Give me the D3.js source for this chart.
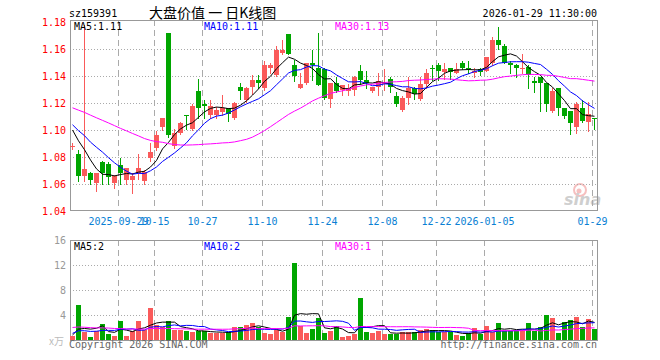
<!DOCTYPE html>
<html>
<head>
<meta charset="utf-8">
<script src="https://cdn.jsdelivr.net/npm/d3@7"></script>
<style>
body{margin:0;background:#fff;}
svg{display:block;}
text{font-family:"DejaVu Sans Mono",monospace;font-size:10px;}
</style>
</head>
<body>
<svg></svg>
<script>
// trading days shown
var dates = ["2025-09-17","2025-09-18","2025-09-19","2025-09-22","2025-09-23","2025-09-24","2025-09-25","2025-09-26","2025-09-29","2025-09-30",
  "2025-10-09","2025-10-10","2025-10-13","2025-10-14","2025-10-15","2025-10-16","2025-10-17","2025-10-20","2025-10-21","2025-10-22",
  "2025-10-23","2025-10-24","2025-10-27","2025-10-28","2025-10-29","2025-10-30","2025-10-31","2025-11-03","2025-11-04","2025-11-05",
  "2025-11-06","2025-11-07","2025-11-10","2025-11-11","2025-11-12","2025-11-13","2025-11-14","2025-11-17","2025-11-18","2025-11-19",
  "2025-11-20","2025-11-21","2025-11-24","2025-11-25","2025-11-26","2025-11-27","2025-11-28","2025-12-01","2025-12-02","2025-12-03",
  "2025-12-04","2025-12-05","2025-12-08","2025-12-09","2025-12-10","2025-12-11","2025-12-12","2025-12-15","2025-12-16","2025-12-17",
  "2025-12-18","2025-12-22","2025-12-23","2025-12-24","2025-12-25","2025-12-26","2025-12-29","2025-12-30","2025-12-31","2026-01-05",
  "2026-01-06","2026-01-07","2026-01-08","2026-01-09","2026-01-12","2026-01-13","2026-01-14","2026-01-15","2026-01-16","2026-01-19",
  "2026-01-20","2026-01-21","2026-01-22","2026-01-23","2026-01-26","2026-01-27","2026-01-28","2026-01-29"];

var open = [1.088,1.082,1.066,1.068,1.061,1.076,1.075,1.061,1.074,1.063,
  1.063,1.068,1.062,1.079,1.087,1.102,1.172,1.088,1.098,1.111,
  1.101,1.129,1.119,1.111,1.111,1.113,1.116,1.109,1.132,1.122,
  1.132,1.137,1.131,1.146,1.141,1.157,1.171,1.148,1.131,1.135,
  1.150,1.146,1.145,1.123,1.135,1.130,1.129,1.130,1.144,1.137,
  1.129,1.132,1.134,1.138,1.125,1.115,1.124,1.131,1.123,1.134,
  1.146,1.148,1.143,1.146,1.142,1.150,1.146,1.142,1.145,1.144,
  1.150,1.167,1.162,1.150,1.148,1.146,1.147,1.136,1.139,1.135,
  1.114,1.131,1.116,1.114,1.102,1.116,1.106,1.109];

var high = [1.090,1.085,1.178,1.069,1.068,1.077,1.076,1.067,1.079,1.072,
  1.068,1.082,1.070,1.090,1.099,1.109,1.172,1.101,1.106,1.111,
  1.119,1.138,1.122,1.122,1.117,1.126,1.116,1.121,1.135,1.132,
  1.141,1.141,1.151,1.150,1.162,1.167,1.171,1.152,1.142,1.150,
  1.159,1.172,1.146,1.135,1.139,1.133,1.134,1.140,1.148,1.144,
  1.132,1.142,1.145,1.139,1.128,1.125,1.139,1.132,1.139,1.145,
  1.148,1.150,1.150,1.146,1.150,1.151,1.151,1.146,1.146,1.154,
  1.169,1.176,1.164,1.151,1.149,1.156,1.148,1.139,1.139,1.135,
  1.131,1.131,1.116,1.114,1.121,1.122,1.121,1.109];

var low = [1.086,1.062,1.062,1.060,1.055,1.060,1.060,1.057,1.060,1.060,
  1.053,1.064,1.060,1.077,1.085,1.100,1.095,1.087,1.097,1.101,
  1.100,1.109,1.109,1.109,1.109,1.111,1.107,1.108,1.123,1.121,
  1.127,1.131,1.130,1.142,1.140,1.156,1.156,1.136,1.131,1.134,
  1.137,1.133,1.123,1.117,1.128,1.126,1.126,1.126,1.134,1.131,
  1.128,1.126,1.130,1.128,1.118,1.114,1.119,1.123,1.122,1.131,
  1.137,1.137,1.138,1.138,1.142,1.145,1.142,1.139,1.141,1.144,
  1.148,1.160,1.150,1.142,1.139,1.142,1.131,1.128,1.114,1.114,
  1.113,1.111,1.109,1.097,1.098,1.106,1.099,1.101];

var close = [1.088,1.066,1.071,1.063,1.068,1.068,1.065,1.066,1.068,1.072,
  1.066,1.072,1.069,1.084,1.096,1.109,1.096,1.098,1.105,1.110,
  1.118,1.116,1.118,1.118,1.115,1.116,1.112,1.120,1.129,1.131,
  1.137,1.135,1.148,1.148,1.159,1.159,1.156,1.140,1.134,1.150,
  1.148,1.133,1.124,1.135,1.129,1.133,1.131,1.139,1.137,1.135,
  1.132,1.136,1.135,1.132,1.119,1.124,1.131,1.127,1.134,1.142,
  1.145,1.144,1.145,1.143,1.145,1.146,1.145,1.144,1.143,1.154,
  1.167,1.163,1.150,1.148,1.146,1.146,1.141,1.135,1.135,1.119,
  1.129,1.116,1.110,1.105,1.119,1.107,1.112,1.108];

// volume, in 万
var volume = [0.64,5.6,1.23,0.48,1.44,2.6,0.96,0.64,3.04,0.64,
  1.44,3.04,1.6,5.12,2.4,2.13,3.04,1.6,1.6,1.44,
  1.28,1.44,1.44,1.12,1.12,1.12,1.23,2.08,2.08,2.4,
  2.72,2.08,1.12,0.96,1.6,1.28,3.68,12.3,2.24,1.12,
  1.76,3.52,1.12,1.44,2.24,0.48,0.64,0.96,6.67,1.28,
  1.12,1.44,0.96,0.96,0.96,1.28,1.28,1.28,1.6,1.76,
  1.6,1.28,1.28,1.28,0.8,0.64,1.12,1.92,0.96,2.24,
  1.28,2.72,1.44,1.44,1.44,1.6,2.72,1.44,2.08,4.0,
  3.52,1.12,2.88,3.2,3.68,2.08,3.36,1.76];

// days before the window, estimated from where the MA lines start
var earlierClose = [1.118,1.121,1.124,1.127,1.125,1.122,1.126,1.129,1.127,1.124,
  1.126,1.128,1.125,1.123,1.124,1.126,1.118,1.115,1.112,1.114,
  1.110,1.108,1.111,1.106,1.104,1.106,1.104,1.101,1.101];
var earlierVolume = [3.1,2.6,2.2,2.9,2.4,1.8,2.7,3.3,2.5,2.1,
  2.8,2.3,1.9,2.6,2.2,2.9,2.4,2.0,2.3,2.3,
  1.5,1.2,1.6,1.1,1.3,0.9,0.7,1.0,0.76];

var priceTicks = [1.04,1.06,1.08,1.10,1.12,1.14,1.16,1.18];
var volTicks = [4,8,12,16];
var tickDates = ["2025-09-29","2025-10-15","2025-10-27","2025-11-10","2025-11-24","2025-12-08","2025-12-22","2026-01-05","2026-01-29"];
var tickLabels = ["2025-09-29","10-15","10-27","11-10","11-24","12-08","12-22","2026-01-05","01-29"];
var maPeriods = [5,10,30];
var maColors = ["#000000","#0000ff","#ff00ff"];

var svg = d3.select("svg").attr("width", 660).attr("height", 360);

var up = "#fa5a5a", down = "#00a600", frameColor = "#999";
var left = 70, right = 598;

var x = d3.scaleBand().domain(dates).range([left, right]);
var y = d3.scaleLinear().domain([1.04, 1.18]).range([211, 22]);
var yv = d3.scaleLinear().domain([0, 16]).range([340, 240]);

function movingAvg(prev, vals, n){
    var all = prev.concat(vals), out = [];
    for(var i = 0; i < vals.length; i++){
        var k = i + prev.length, s = 0;
        for(var j = k - n + 1; j <= k; j++){
            s += all[j];
        }
        out.push(s / n);
    }
    return out;
}

function isUp(i){ return close[i] >= open[i]; }

// header
svg.append("text").attr("x", 69).attr("y", 17).text("sz159391");
svg.append("text").attr("x", 149).attr("y", 18)
    .style("font-family", "'Noto Sans CJK SC',sans-serif").style("font-size", "14px")
    .text("大盘价值 一 日K线图");
svg.append("text").attr("x", 597).attr("y", 17).attr("text-anchor", "end").text("2026-01-29 11:30:00");

// sina mark
var mark = svg.append("g").attr("opacity", 0.55);
mark.append("circle").attr("cx", 580).attr("cy", 190).attr("r", 6)
    .attr("fill", "none").attr("stroke", "#f08c8c").attr("stroke-width", 2);
mark.append("circle").attr("cx", 579).attr("cy", 191).attr("r", 2.5).attr("fill", "#f08c8c");
mark.append("text").attr("x", 564).attr("y", 205)
    .style("font-family", "'DejaVu Sans',sans-serif").style("font-size", "16px")
    .style("font-weight", "bold").style("font-style", "italic")
    .attr("fill", "#a8a8a8").text("sina");

// grid, price panel
svg.append("g").selectAll("line")
    .data(priceTicks.filter(function(d){ return d > 1.045 && d < 1.175; }))
    .enter().append("line")
    .attr("x1", left).attr("x2", right)
    .attr("y1", function(d){ return Math.round(y(d)) + 0.5; })
    .attr("y2", function(d){ return Math.round(y(d)) + 0.5; })
    .attr("stroke", "#aaa").attr("stroke-dasharray", "1,2");

// grid, volume panel
svg.append("g").selectAll("line")
    .data(volTicks.filter(function(d){ return d < 16; }))
    .enter().append("line")
    .attr("x1", left).attr("x2", right)
    .attr("y1", function(d){ return Math.round(yv(d)) + 0.5; })
    .attr("y2", function(d){ return Math.round(yv(d)) + 0.5; })
    .attr("stroke", "#aaa").attr("stroke-dasharray", "1,2");

// date lines in both panels
var vgrid = svg.append("g");
[[20, 211], [240, 340]].forEach(function(r){
    vgrid.selectAll(null).data(tickDates).enter().append("line")
        .attr("x1", function(d){ return x(d) + 0.5; })
        .attr("x2", function(d){ return x(d) + 0.5; })
        .attr("y1", r[0]).attr("y2", r[1])
        .attr("stroke", "#aaa").attr("stroke-dasharray", "6,4");
});

// frames
svg.append("rect").attr("x", left + 0.5).attr("y", 20.5).attr("width", right - left - 1).attr("height", 190)
    .attr("fill", "none").attr("stroke", frameColor);
svg.append("rect").attr("x", left + 0.5).attr("y", 240.5).attr("width", right - left - 1).attr("height", 100)
    .attr("fill", "none").attr("stroke", frameColor);

// price labels
svg.append("g").selectAll("text").data(priceTicks).enter().append("text")
    .attr("x", 66).attr("y", function(d){ return y(d) + 4; })
    .attr("text-anchor", "end").attr("fill", "#ff0000")
    .text(function(d){ return d.toFixed(2); });

// volume labels
svg.append("g").selectAll("text").data(volTicks).enter().append("text")
    .attr("x", 66).attr("y", function(d){ return yv(d) + 4; })
    .attr("text-anchor", "end").attr("fill", "#999")
    .text(function(d){ return d; });
svg.append("text").attr("x", 64).attr("y", 345).attr("text-anchor", "end")
    .style("font-family", "'Noto Sans CJK SC',sans-serif").style("font-size", "10px")
    .attr("fill", "#bbb").text("x万");

// date labels
svg.append("g").selectAll("text").data(tickDates).enter().append("text")
    .attr("x", function(d){ return x(d) + 0.5; }).attr("y", 225)
    .attr("text-anchor", "middle").attr("fill", "#0a7fd4")
    .text(function(d, i){ return tickLabels[i]; });

// candles
var candle = svg.append("g").selectAll("g").data(dates).enter().append("g");
candle.append("line")
    .attr("x1", function(d){ return x(d) + 2.5; })
    .attr("x2", function(d){ return x(d) + 2.5; })
    .attr("y1", function(d, i){ return Math.round(y(high[i])); })
    .attr("y2", function(d, i){ return Math.round(y(low[i])) + 1; })
    .attr("stroke", function(d, i){ return isUp(i) ? up : down; });
candle.append("rect")
    .attr("x", function(d){ return x(d); })
    .attr("width", 5)
    .attr("y", function(d, i){ return Math.round(y(Math.max(open[i], close[i]))); })
    .attr("height", function(d, i){
        return Math.max(1, Math.round(y(Math.min(open[i], close[i]))) - Math.round(y(Math.max(open[i], close[i]))));
    })
    .attr("fill", function(d, i){ return isUp(i) ? up : down; });

// volume bars
svg.append("g").selectAll("rect").data(volume).enter().append("rect")
    .attr("x", function(d, i){ return x(dates[i]); })
    .attr("width", 5)
    .attr("y", function(d){ return Math.round(yv(d)); })
    .attr("height", function(d){ return 340 - Math.round(yv(d)); })
    .attr("fill", function(d, i){ return isUp(i) ? up : down; });

// moving averages
function maLine(scale){
    return d3.line()
        .x(function(d, i){ return x(dates[i]) + 2.5; })
        .y(function(d){ return scale(d); });
}

var legendX = [74, 204, 335];
maPeriods.forEach(function(n, k){
    var pm = movingAvg(earlierClose, close, n);
    var vm = movingAvg(earlierVolume, volume, n);
    svg.append("path").datum(pm).attr("d", maLine(y))
        .attr("fill", "none").attr("stroke", maColors[k]).attr("stroke-width", 1);
    svg.append("path").datum(vm).attr("d", maLine(yv))
        .attr("fill", "none").attr("stroke", maColors[k]).attr("stroke-width", 1);

    var lastP = Math.floor(pm[pm.length - 1] * 100 + 1e-6) / 100;
    var lastV = Math.floor(vm[vm.length - 1] + 1e-6);
    svg.append("text").attr("x", legendX[k]).attr("y", 30).attr("fill", maColors[k])
        .text("MA" + n + ":" + lastP.toFixed(2));
    svg.append("text").attr("x", legendX[k]).attr("y", 250).attr("fill", maColors[k])
        .text("MA" + n + ":" + lastV);
});

// footer
svg.append("text").attr("x", 69).attr("y", 348).attr("fill", "#666").text("Copyright 2026 SINA.COM");
svg.append("text").attr("x", 597).attr("y", 348).attr("text-anchor", "end").attr("fill", "#666").text("http://finance.sina.com.cn");
</script>
</body>
</html>
